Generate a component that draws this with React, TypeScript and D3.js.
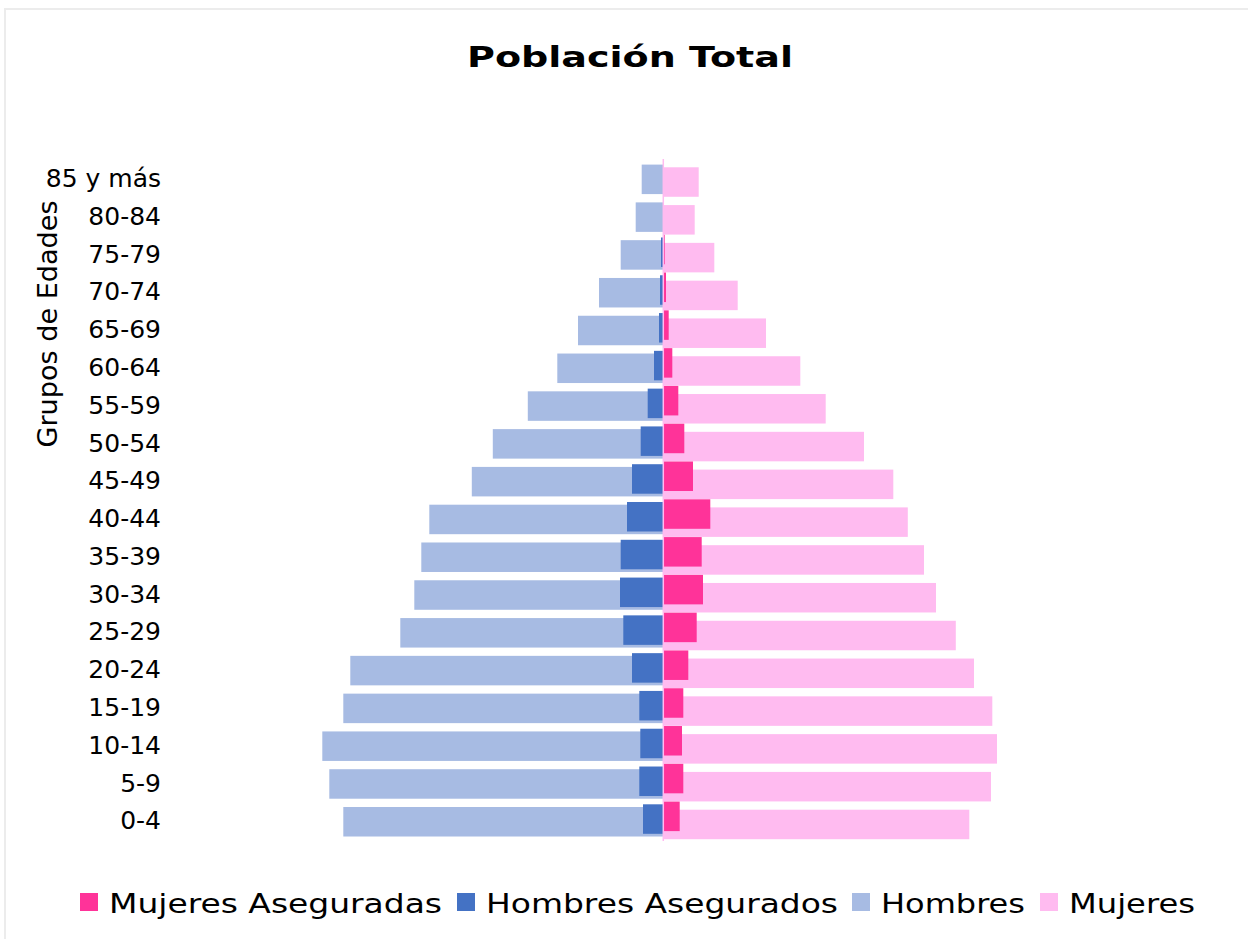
import * as d3 from "d3";

// age groups, bottom (0-4) to top (85 y más)
const grupos = [
  "0-4", "5-9", "10-14", "15-19", "20-24", "25-29", "30-34", "35-39", "40-44",
  "45-49", "50-54", "55-59", "60-64", "65-69", "70-74", "75-79", "80-84", "85 y más",
];

// population per group (no axis so units are relative)
const hombres = [32000, 33400, 34100, 32000, 31300, 26300, 24900, 24200, 23400, 19150, 17050, 13550, 10600, 8530, 6430, 4260, 2760, 2160];
const hombresAsegurados = [2030, 2400, 2300, 2400, 3130, 4000, 4330, 4260, 3630, 3130, 2260, 1560, 930, 430, 330, 230, 0, 0];
const mujeres = [30600, 32770, 33370, 32900, 31070, 29250, 27270, 26070, 24450, 23000, 20070, 16240, 13700, 10270, 7440, 5100, 3140, 3540];
const mujeresAseguradas = [1640, 2000, 1870, 2000, 2500, 3340, 3970, 3840, 4700, 2970, 2100, 1500, 900, 540, 270, 140, 0, 0];

const legend = [
  { name: "Mujeres Aseguradas", color: "#FF3399", x: 80, len: 333 },
  { name: "Hombres Asegurados", color: "#4472C4", x: 457, len: 352 },
  { name: "Hombres", color: "#A7BBE3", x: 852, len: 144 },
  { name: "Mujeres", color: "#FFBBF0", x: 1040, len: 126 },
];

const W = 1248;
const H = 939;
const font = "'DejaVu Sans', sans-serif";

export default function App() {
  const x0 = 663.3;
  const x = d3.scaleLinear().domain([-36000, 36000]).range([x0 - 360, x0 + 360]);
  const y = d3.scaleBand()
    .domain(grupos.slice().reverse())
    .range([159.1, 839.3])
    .paddingInner(0)
    .paddingOuter(0);
  const barH = 29.5;
  const center = (g: string) => y(g)! + y.bandwidth() / 2;

  // series in drawing order: each one sits a little higher in the cluster
  const series = [
    { vals: mujeres, sign: 1, color: "#FFBBF0", off: 4.05 },
    { vals: hombres, sign: -1, color: "#A7BBE3", off: 1.35 },
    { vals: hombresAsegurados, sign: -1, color: "#4472C4", off: -1.35 },
    { vals: mujeresAseguradas, sign: 1, color: "#FF3399", off: -4.05 },
  ];

  return (
    <svg width={W} height={H} style={{ position: "absolute", left: 0, top: 0, background: "#fff" }}>
      <rect x={5} y={9} width={W + 10} height={H + 10} fill="#fff" stroke="#ECECEC" strokeWidth={2} />

      <text x={630} y={67} textAnchor="middle" fontFamily={font} fontWeight="bold" fontSize={29}
        textLength={326} lengthAdjust="spacingAndGlyphs" fill="#000">
        Población Total
      </text>

      {series.map((s, si) => (
        <g key={si}>
          {grupos.map((g, i) => {
            const v = s.sign * s.vals[i];
            if (v === 0) return null;
            const xa = x(Math.min(0, v));
            const xb = x(Math.max(0, v));
            return (
              <rect key={g} x={xa} width={xb - xa} y={center(g) + s.off - barH / 2} height={barH} fill={s.color} />
            );
          })}
        </g>
      ))}

      <line x1={x(0)} x2={x(0)} y1={159} y2={841} stroke="#FFBBF0" strokeWidth={1.5} />

      {grupos.map((g) => (
        <text key={g} x={161} y={center(g)} dy="0.36em" textAnchor="end" fontFamily={font} fontSize={25} fill="#000">
          {g}
        </text>
      ))}

      <text transform={`translate(57,324) rotate(-90)`} textAnchor="middle" fontFamily={font} fontSize={26}
        textLength={247} lengthAdjust="spacingAndGlyphs" fill="#000">
        Grupos de Edades
      </text>

      {legend.map((l) => (
        <g key={l.name}>
          <rect x={l.x} y={893} width={18} height={18} fill={l.color} />
          <text x={l.x + 29} y={913} fontFamily={font} fontSize={26} textLength={l.len}
            lengthAdjust="spacingAndGlyphs" fill="#000">
            {l.name}
          </text>
        </g>
      ))}
    </svg>
  );
}
